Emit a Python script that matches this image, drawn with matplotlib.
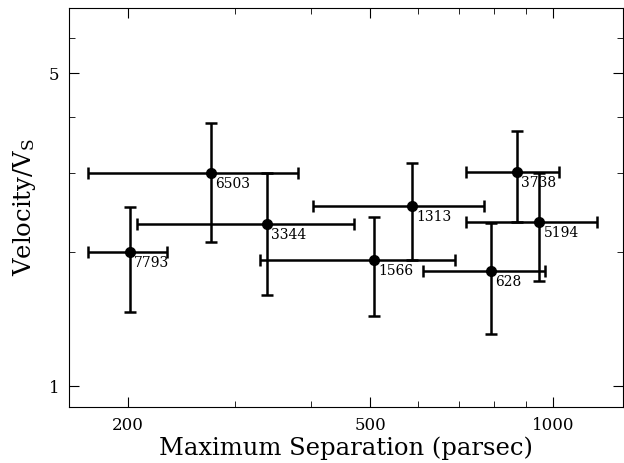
import numpy as np
import matplotlib
matplotlib.use("Agg")
import matplotlib.pyplot as plt
from matplotlib.ticker import FixedLocator, NullFormatter

plt.rcParams['font.family'] = 'DejaVu Serif'
plt.rcParams['mathtext.fontset'] = 'dejavuserif'

# Dados
ids = ['7793', '6503', '3344', '1566', '1313', '3738', '5194', '628']
sep = np.array([201, 274, 338, 507, 586, 870, 948, 789])
sep_lo = np.array([172, 172, 207, 329, 402, 718, 718, 610])
sep_hi = np.array([232, 380, 470, 688, 768, 1022, 1180, 970])
vel = np.array([2.00, 3.00, 2.31, 1.92, 2.53, 3.01, 2.33, 1.81])
vel_lo = np.array([1.47, 2.10, 1.60, 1.44, 1.92, 2.33, 1.72, 1.31])
vel_hi = np.array([2.52, 3.87, 3.00, 2.39, 3.15, 3.72, 3.00, 2.32])

xticks = [200, 500, 1000]
yticks = [1, 5]

fig = plt.figure(figsize=(6.24, 4.63), dpi=100)
ax = fig.add_axes([0.111, 0.121, 0.887, 0.862])

xerr = [sep - sep_lo, sep_hi - sep]
yerr = [vel - vel_lo, vel_hi - vel]
ax.errorbar(sep, vel, xerr=xerr, yerr=yerr, fmt='o', color='black',
            markersize=7, elinewidth=1.8, capsize=4, capthick=1.8)

for i, nome in enumerate(ids):
    ax.annotate(nome, (sep[i], vel[i]), xytext=(3, -3), textcoords='offset points',
                ha='left', va='top', fontsize=10)

ax.set_xscale('log')
ax.set_yscale('log')
ax.set_xlim(160, 1300)
ax.set_ylim(0.9, 7.0)

ax.xaxis.set_major_locator(FixedLocator(xticks))
ax.xaxis.set_major_formatter(plt.FixedFormatter([str(t) for t in xticks]))
ax.xaxis.set_minor_locator(FixedLocator([300, 400, 600, 700, 800, 900]))
ax.xaxis.set_minor_formatter(NullFormatter())
ax.yaxis.set_major_locator(FixedLocator(yticks))
ax.yaxis.set_major_formatter(plt.FixedFormatter([str(t) for t in yticks]))
ax.yaxis.set_minor_locator(FixedLocator([2, 3, 4, 6]))
ax.yaxis.set_minor_formatter(NullFormatter())

ax.tick_params(which='both', direction='in', top=True, right=True, labelsize=12)
ax.tick_params(which='major', length=7, pad=7)
ax.tick_params(which='minor', length=4)

ax.set_xlabel('Maximum Separation (parsec)', fontsize=17.5, labelpad=2)
ax.set_ylabel(r'Velocity/V$_\mathrm{S}$', fontsize=17.5, labelpad=8)

fig.savefig('out.png', dpi=100)
